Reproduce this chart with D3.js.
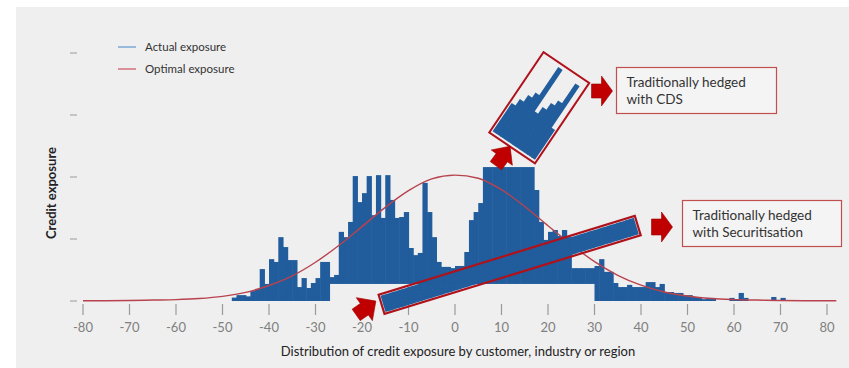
<!DOCTYPE html>
<html><head><meta charset="utf-8">
<script src="https://cdn.jsdelivr.net/npm/d3@7"></script>
<style>body{margin:0;background:#fff;} svg{display:block}</style>
</head><body><svg id="c" width="849" height="368"></svg>
<script>
// ---- data ----
const binStarts = d3.range(-48, 71);
const exposure = [
 1.1,1.9,1.9,1.5,3.2,3.9,10.3,5.5,13.5,12.6,      // -48..-39
 20.6,17.4,13.2,13.2,4.5,7.4,4.2,5.8,7.4,12.6,    // -38..-29
 12.6,7.7,8.4,22.3,20.6,25.5,40.3,31.9,34.8,40.3, // -28..-19
 27.7,40.6,26.8,40.6,32.6,26.8,27.1,28.7,17.1,14.8,// -18..-9
 15.5,38.1,28.7,20.6,12.6,11.0,11.0,10.6,11.3,11.3,// -8..1
 15.8,26.1,28.7,31.6,54.2,56.7,59.3,61.3,72.2,56.1,// 2..11
 58.7,61.3,63.2,70.9,54.8,35.8,25.5,19.7,22.3,22.9,// 12..21
 21.0,22.9,20.6,10.6,10.6,10.6,10.6,10.6,11.3,13.5,// 22..31
 9.4,9.4,5.8,4.5,4.5,5.2,4.5,4.5,4.5,6.1,          // 32..41
 6.1,4.5,5.5,2.9,2.9,2.6,2.6,1.9,1.9,1.3,          // 42..51
 1.3,0.6,1.0,1.0,0,0,0,1.0,0.6,2.6,                // 52..61
 1.0,0,0,0,0,0,1.3,0,1.0                           // 62..70
];
const curveX = [-80,-75,-70,-65,-60,-55,-50,-45,-40,-35,-30,-25,-20,-15,-10,-5,0,5,10,15,20,25,30,35,40,45,50,55,60,65,70,75,80,82];
const curveY = [0.1,0.1,0.15,0.3,0.45,0.8,1.5,2.8,5.0,8.1,12.5,17.9,24.0,30.2,35.6,39.4,40.6,39.6,35.9,30.5,24.3,18.2,12.7,8.3,5.1,2.9,1.6,0.8,0.45,0.3,0.15,0.1,0.1,0.1];
const xTicks = [-80,-70,-60,-50,-40,-30,-20,-10,0,10,20,30,40,50,60,70,80];
const yTicks = [0,20,40,60,80];
const securitisedRange = [-27, 30];
const securitisedHeight = 5.5;
const cdsRange = [6, 17];
const cdsCap = 43.2;
const legendLabels = ["Actual exposure", "Optimal exposure"];
const cdsLabel = ["Traditionally hedged", "with CDS"];
const secLabel = ["Traditionally hedged", "with Securitisation"];
const xTitle = "Distribution of credit exposure by customer, industry or region";
const yTitle = "Credit exposure";

// ---- drawing ----
const BLUE = "#215d9c", RED = "#b8434e", DARKRED = "#b0121b";
const FONT = "Lato, 'Open Sans', sans-serif";
const svg = d3.select("#c");
svg.append("rect").attr("x",16).attr("y",7).attr("width",849-16).attr("height",368-7).attr("fill","#efefef");

const x = d3.scaleLinear().domain([-80,80]).range([83,827]);
const y = d3.scaleLinear().domain([0,80]).range([301,53]);
const bw = x(1) - x(0);
const bins = binStarts.map((v,i)=>({v, h: exposure[i]}));
const inSec = v => v >= securitisedRange[0] && v < securitisedRange[1];
const inCds = v => v >= cdsRange[0] && v < cdsRange[1];

// main bars (with cut-out slices)
svg.append("g").selectAll("rect").data(bins.filter(d=>{
  const lo = inSec(d.v) ? securitisedHeight : 0; return d.h > lo;}))
 .join("rect")
 .attr("x", d=>x(d.v)).attr("width", bw+0.6)
 .attr("y", d=>y(inCds(d.v) ? Math.min(d.h, cdsCap) : d.h))
 .attr("height", d=>{
   const top = inCds(d.v) ? Math.min(d.h, cdsCap) : d.h;
   const lo = inSec(d.v) ? securitisedHeight : 0;
   return y(lo) - y(top);})
 .attr("fill", BLUE);

// x ticks
const xg = svg.append("g");
xg.selectAll("line").data(xTicks).join("line")
 .attr("x1",d=>x(d)).attr("x2",d=>x(d)).attr("y1",304).attr("y2",315)
 .attr("stroke","#9a9a9a").attr("stroke-width",1.2);
xg.selectAll("text").data(xTicks).join("text")
 .attr("x",d=>x(d)).attr("y",332).attr("text-anchor","middle")
 .attr("font-family",FONT).attr("font-size",13).attr("fill","#808080")
 .text(d=>d);
// y ticks (no labels)
svg.append("g").selectAll("line").data(yTicks).join("line")
 .attr("x1",70).attr("x2",77).attr("y1",d=>y(d)).attr("y2",d=>y(d))
 .attr("stroke","#9a9a9a").attr("stroke-width",1);

// optimal curve
const line = d3.line().x((d,i)=>x(curveX[i])).y(d=>y(d)).curve(d3.curveMonotoneX);
svg.append("path").attr("d", line(curveY)).attr("fill","none")
 .attr("stroke",RED).attr("stroke-width",1.4);

// securitisation slice, rotated
const secBins = bins.filter(d=>inSec(d.v));
const secLen = x(securitisedRange[1]) - x(securitisedRange[0]);
const secH = y(0) - y(securitisedHeight);
const sg = svg.append("g").attr("transform","translate(385.5,312.1) rotate(-17.1)");
sg.append("rect").attr("x",-1.5).attr("y",-secH-1.5).attr("width",secLen+3).attr("height",secH+3)
 .attr("fill","none").attr("stroke",DARKRED).attr("stroke-width",2.2);
sg.selectAll("rect.b").data(secBins).join("rect").attr("class","b")
 .attr("x",d=>x(d.v)-x(securitisedRange[0])).attr("width",d=>Math.min(bw+0.6, secLen-(x(d.v)-x(securitisedRange[0]))))
 .attr("y",-secH).attr("height",secH).attr("fill",BLUE);

// CDS slice, rotated
const cdsBins = bins.filter(d=>inCds(d.v));
const cg = svg.append("g").attr("transform","translate(492.6,131.2) rotate(34)");
cg.append("rect").attr("x",-2).attr("y",-94).attr("width",(x(cdsRange[1])-x(cdsRange[0]))+4).attr("height",97)
 .attr("fill","none").attr("stroke",DARKRED).attr("stroke-width",2);
cg.selectAll("rect.b").data(cdsBins).join("rect").attr("class","b")
 .attr("x",d=>x(d.v)-x(cdsRange[0])).attr("width",(d,i)=> i===cdsBins.length-1 ? bw : bw+0.6)
 .attr("y",d=>-(y(cdsCap)-y(d.h))).attr("height",d=>y(cdsCap)-y(d.h)).attr("fill",BLUE);

// block arrows
function arrow(cx, cy, rot, len, stem, sh, hh){
  const a=-len/2, b=-len/2+stem, c=len/2;
  svg.append("path").attr("transform",`translate(${cx},${cy}) rotate(${rot})`)
   .attr("d",`M${a},${-sh}L${b},${-sh}L${b},${-hh}L${c},0L${b},${hh}L${b},${sh}L${a},${sh}Z`)
   .attr("fill","#c00000").attr("stroke","#a00000").attr("stroke-width",0.6);
}
arrow(602,91,0,21,10,7,15);
arrow(662,227,0,21,10,8,15);
arrow(503,156,-54,24,10,7,13);
arrow(366,308,-35,24,10,7,14);

// text boxes
function textBox(bx, by, w, h, lines){
  svg.append("rect").attr("x",bx).attr("y",by).attr("width",w).attr("height",h)
   .attr("fill","#f4f4f4").attr("stroke","#c0504d").attr("stroke-width",1.2);
  svg.append("g").selectAll("text").data(lines).join("text")
   .attr("x",bx+10).attr("y",(d,i)=>by+19+i*17.5)
   .attr("font-family",FONT).attr("font-size",13.5).attr("fill","#333").text(d=>d);
}
textBox(616.5,67.5,160,46,cdsLabel);
textBox(682.5,200.5,159,46,secLabel);

// legend
const lg = svg.append("g");
const legColors = ["#7aa7d6","#d0707c"];
legendLabels.forEach((t,i)=>{
  lg.append("line").attr("x1",118).attr("x2",136).attr("y1",47+i*22).attr("y2",47+i*22)
    .attr("stroke",legColors[i]).attr("stroke-width",1.5);
  lg.append("text").attr("x",145).attr("y",51+i*22).attr("font-family",FONT)
    .attr("font-size",11.5).attr("fill","#333").text(t);
});

// axis titles
svg.append("text").attr("x",458).attr("y",356).attr("text-anchor","middle")
 .attr("font-family",FONT).attr("font-size",13).attr("fill","#222").text(xTitle);
svg.append("text").attr("transform","translate(56,193) rotate(-90)").attr("text-anchor","middle")
 .attr("font-family",FONT).attr("font-size",13).attr("font-weight","bold").attr("fill","#222").text(yTitle);
</script></body></html>
